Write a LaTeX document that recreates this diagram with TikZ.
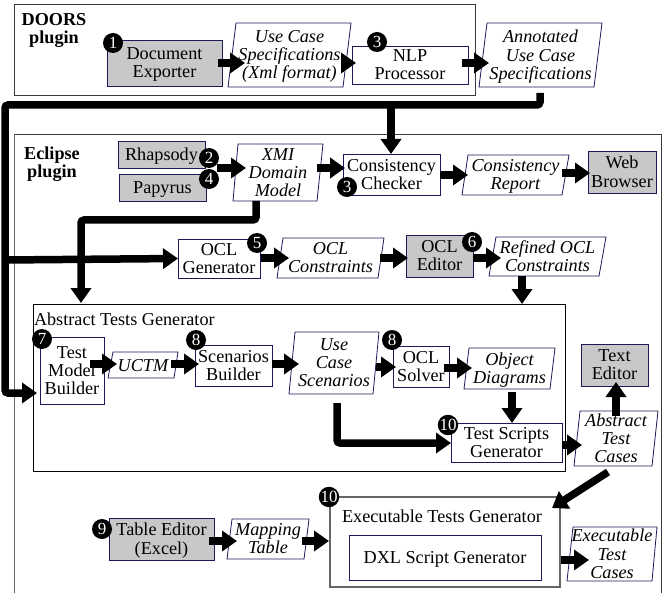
\documentclass[tikz,border=0pt]{standalone}
\usepackage{fontspec}
\setmainfont{Liberation Serif}
\usetikzlibrary{arrows.meta,calc}
\definecolor{navyline}{HTML}{1A1A5A}
\definecolor{toolgray}{HTML}{C8C8C8}
\definecolor{frameline}{HTML}{3A3A3A}
\definecolor{softframe}{HTML}{666666}
\tikzset{
  base/.style={inner sep=0pt,outer sep=0pt,align=center,font=\fontsize{18.2}{18.2}\selectfont,
    execute at begin node=\strut,execute at end node=\strut},
  plainshape/.style={inner sep=0pt,outer sep=0pt},
  boxed/.style={plainshape,draw=navyline,line width=0.8pt,fill=white},
  toolbox/.style={boxed,fill=toolgray},
  doctext/.style={base,font=\fontsize{18.2}{18.2}\selectfont\itshape},
  docline/.style={draw=navyline,line width=0.8pt,fill=white},
  frame/.style={draw=frameline,line width=0.8pt},
  softbox/.style={plainshape,draw=softframe,line width=1.2pt},
  blackbox/.style={plainshape,draw=black,line width=0.8pt},
  flow/.style={line width=7.5pt,-{Triangle[length=15pt,width=20pt]},rounded corners=3pt},
  badge/.style={circle,fill=black,text=white,inner sep=0pt,minimum size=20pt,font=\fontsize{17}{17}\selectfont},
  heading/.style={base,font=\fontsize{18.2}{18.2}\selectfont\bfseries},
  caption/.style={base}
}
% name, left, top, right, bottom, style, text
\newcommand\blockat[7]{%
  \pgfmathsetmacro\blkx{(#2+#4)/2}\pgfmathsetmacro\blky{(#3+#5)/2}%
  \pgfmathsetmacro\blkw{#4-#2}\pgfmathsetmacro\blkh{#5-#3}%
  \node[#6,minimum width=\blkw pt,minimum height=\blkh pt] (#1) at (\blkx,\blky) {};
  \node[base] (#1T) at (\blkx,\blky+2.5) {#7};}
% name, bottom-left x, top-left x, top-right x, bottom-right x, top, bottom, text
\newcommand\docat[8]{%
  \draw[docline] (#2,#7) -- (#3,#6) -- (#4,#6) -- (#5,#7) -- cycle;
  \pgfmathsetmacro\blkx{(#2+#4)/2}\pgfmathsetmacro\blky{(#6+#7)/2}%
  \pgfmathsetmacro\blkw{#4-#2}\pgfmathsetmacro\blkh{#7-#6}%
  \node[plainshape,minimum width=\blkw pt,minimum height=\blkh pt] (#1) at (\blkx,\blky) {};
  \node[doctext] (#1T) at (\blkx,\blky+2.5) {#8};}
% from, dx, to, dx, y
\newcommand\hflow[5]{%
  \path (#1.east) ++(#2,0) coordinate (flowS);
  \path (#3.west) ++(#4,0) coordinate (flowE);
  \draw[flow] (flowS |- 0,#5) -- (flowE |- 0,#5);}
\begin{document}
\begin{tikzpicture}[x=1pt,y=-1pt]
\useasboundingbox (0,0) rectangle (668,593);
\fill[white] (0,0) rectangle (668,593);
% containers
\draw[frame] (14,4) rectangle (475,95);
\draw[frame] (14,134) -- (661,134) -- (661,593);
\draw[draw=softframe,line width=1pt] (14,593) -- (14,134);
\node[heading] (doorsT) at (54,31) {DOORS\\plugin};
\node[heading] (eclipseT) at (52,165) {Eclipse\\plugin};
% DOORS
\blockat{exporter}{107}{40}{222}{86}{toolbox}{Document\\Exporter}
\docat{ucspec}{228}{236}{351}{343}{23}{87}{Use Case\\Specifications\\(Xml format)}
\blockat{nlp}{352}{46}{468}{84}{boxed}{NLP\\Processor}
\docat{annot}{479}{487}{602}{594}{23}{87}{Annotated\\Use Case\\Specifications}
% Eclipse row 1
\blockat{rhap}{118}{141}{205}{168}{toolbox}{Rhapsody}
\blockat{papy}{119}{174}{206}{201}{toolbox}{Papyrus}
\docat{xmi}{233}{238}{323}{317}{144}{201}{XMI\\Domain\\Model}
\blockat{check}{343}{154}{440}{195}{boxed}{Consistency\\Checker}
\docat{report}{462}{468}{569}{562}{155}{195}{Consistency\\Report}
\blockat{web}{588}{151}{656}{193}{toolbox}{Web\\Browser}
% row 2
\blockat{oclgen}{178}{239}{260}{278}{boxed}{OCL\\Generator}
\docat{oclcon}{277}{283}{384}{378}{238}{278}{OCL\\Constraints}
\blockat{ocled}{406}{235}{473}{277}{toolbox}{OCL\\Editor}
\docat{refined}{489}{496}{606}{599}{237}{276}{Refined OCL\\Constraints}
% abstract tests generator
\node[blackbox,minimum width=532pt,minimum height=167pt] (atg) at (299,387.5) {};
\node[caption,anchor=west] (atgT) at (34,322) {Abstract Tests Generator};
\blockat{tmb}{40}{337}{104}{404}{boxed}{Test\\Model\\Builder}
\docat{uctm}{108}{113}{178}{174}{352}{378}{UCTM}
\blockat{scen}{195}{345}{272}{386}{boxed}{Scenarios\\Builder}
\docat{ucs}{289}{295}{379}{373}{332}{394}{Use\\Case\\Scenarios}
\blockat{solver}{393}{346}{449}{387}{boxed}{OCL\\Solver}
\docat{objd}{464}{469}{555}{550}{348}{389}{Object\\Diagrams}
\blockat{tsg}{451}{423}{562}{462}{boxed}{Test Scripts\\Generator}
\docat{atc}{574}{580}{658}{652}{411}{466}{Abstract\\Test\\Cases}
\blockat{texted}{581}{344}{648}{386}{toolbox}{Text\\Editor}
% executable tests generator
\node[softbox,minimum width=230pt,minimum height=90pt] (etg) at (445,542) {};
\node[caption] (etgT) at (442,519) {Executable Tests Generator};
\blockat{dxl}{349}{535}{541}{580}{boxed}{DXL Script Generator}
\blockat{tabled}{109}{518}{214}{560}{toolbox}{Table Editor\\(Excel)}
\docat{maptab}{227}{232}{309}{304}{519}{559}{Mapping\\Table}
\docat{etc}{567}{573}{657}{652}{527}{581}{Executable\\Test\\Cases}
% connectors, DOORS
\hflow{exporter}{-4}{ucspec}{17}{63}
\hflow{ucspec}{-5}{nlp}{4}{63}
\hflow{nlp}{-6}{annot}{10}{63}
% main bus
\coordinate (annotOut) at (540,93);
\coordinate (busA) at (391,105);
\coordinate (busB) at (5,260);
\coordinate (tmbIn) at (37,393);
\draw[flow] (annotOut) -- (540,105) -- (5,105) -- (5,393) -- (tmbIn);
\draw[flow,rounded corners=0pt] (busA) -- (check.north -| busA);
\draw[flow,rounded corners=0pt] (busB) -- (oclgen.west);
% Eclipse row 1
\hflow{rhap}{12}{xmi}{13}{168}
\hflow{xmi}{-6}{check}{2}{168}
\hflow{check}{0}{report}{6}{175}
\hflow{report}{-7}{web}{2}{173}
% XMI to ATG
\coordinate (xmiOut) at (256,201);
\coordinate (atgIn) at (81,303);
\draw[flow] (xmiOut) -- (256,220) -- (81,220) -- (atgIn);
% row 2
\hflow{oclgen}{1}{oclcon}{12}{258}
\hflow{oclcon}{-4}{ocled}{2}{258}
\hflow{ocled}{0}{refined}{12}{258}
\coordinate (refOut) at (522,276);
\draw[flow] (refOut) -- (refOut |- atg.north);
% ATG internal
\hflow{tmb}{-14}{uctm}{9}{364}
\hflow{uctm}{-7}{scen}{4}{364}
\hflow{scen}{0}{ucs}{10}{364}
\hflow{ucs}{-3}{solver}{3}{367}
\hflow{solver}{-5}{objd}{8}{368}
\coordinate (objOut) at (512,392);
\draw[flow] (objOut) -- (objOut |- tsg.north);
\coordinate (ucsOut) at (337,403);
\draw[flow] (ucsOut) -- (337,443) -- (tsg.west |- 0,443);
\hflow{tsg}{0}{atc}{8}{445}
\coordinate (atcUp) at (616,416);
\draw[flow] (atcUp) -- (616,382);
\coordinate (atcOut) at (608,472);
\coordinate (etgIn) at (552,508);
\draw[flow] (atcOut) -- (etgIn);
% bottom row
\hflow{tabled}{-5}{maptab}{10}{541}
\hflow{maptab}{-7}{etg}{-1}{541}
\hflow{etg}{1}{etc}{22}{560}
% badges
\node[badge] (b1) at (113,43) {1};
\node[badge] (b2) at (209,158) {2};
\node[badge] (b4) at (209,179) {4};
\node[badge] (b3a) at (377,42) {3};
\node[badge] (b3b) at (347,187) {3};
\node[badge] (b5) at (257,243) {5};
\node[badge] (b6) at (472,242) {6};
\node[badge] (b7) at (42,339) {7};
\node[badge] (b8a) at (196,340) {8};
\node[badge] (b8b) at (392,340) {8};
\node[badge] (b10a) at (448,425) {10};
\node[badge] (b10b) at (329,497) {10};
\node[badge] (b9) at (102,529) {9};
\end{tikzpicture}
\end{document}
